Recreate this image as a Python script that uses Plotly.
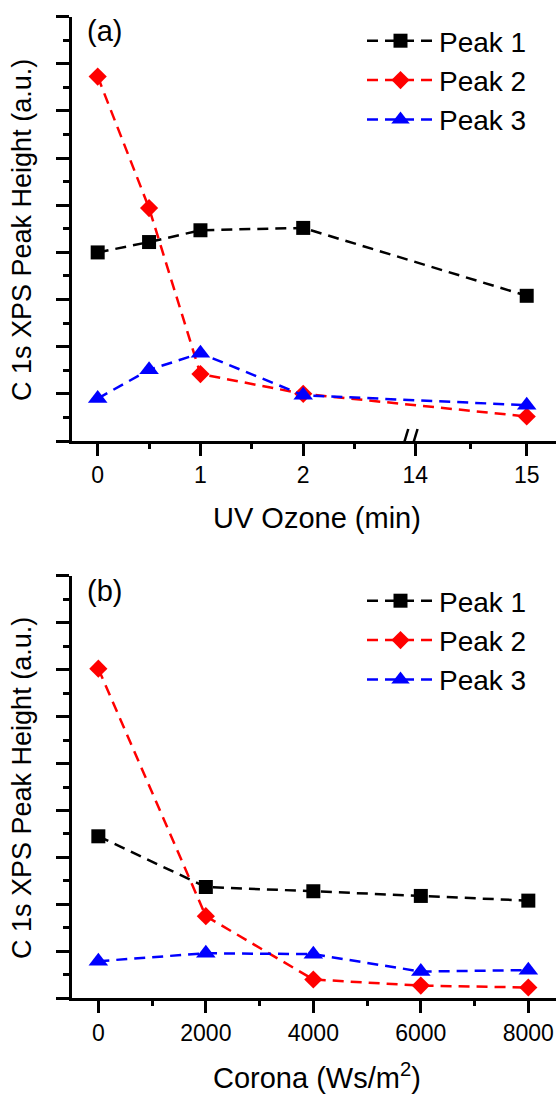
import plotly.graph_objects as go

# ---------------- data ----------------
uv_time = [0, 0.5, 1, 2, 15]          # min
uv_peak1 = [4.00, 4.22, 4.47, 4.52, 3.08]
uv_peak2 = [7.73, 4.94, 1.42, 1.00, 0.52]
uv_peak3 = [0.90, 1.51, 1.86, 0.97, 0.76]

corona = [0, 2000, 4000, 6000, 8000]  # Ws/m2
co_peak1 = [3.45, 2.37, 2.28, 2.18, 2.08]
co_peak2 = [7.02, 1.75, 0.40, 0.27, 0.23]
co_peak3 = [0.79, 0.96, 0.94, 0.57, 0.60]

uv_major_ticks = [0, 1, 2, 14, 15]
uv_minor_ticks = [0.5, 1.5, 2.5, 14.5]
co_major_ticks = [0, 2000, 4000, 6000, 8000]
co_minor_ticks = [1000, 3000, 5000, 7000]

names = ["Peak 1", "Peak 2", "Peak 3"]
colors = ["#000000", "#FF0000", "#0000FF"]
symbols = ["square", "diamond", "triangle-up"]
sizes = [14, 14, 17]

# broken x axis: segment 1 (0..2.5) and segment 2 (14..15) with its own scale
SEG2_START = 3.09
SEG2_SCALE = 1.085
BREAK_POS = 3.03


def brk(t):
    return t if t <= 2.5 else SEG2_START + (t - 14) * SEG2_SCALE


W, H = 557, 1095
L_M, R_M = 72, 1

def py(px):  # pixel row -> paper fraction
    return 1 - px / H

def pxx(px):  # pixel col -> paper fraction
    return (px - L_M) / (W - L_M - R_M)

fig = go.Figure()

for i in range(3):
    fig.add_trace(go.Scatter(
        x=[brk(t) for t in uv_time], y=[uv_peak1, uv_peak2, uv_peak3][i],
        mode="lines+markers", name=names[i],
        line=dict(color=colors[i], width=2.5, dash="11px,7px"),
        marker=dict(symbol=symbols[i], size=sizes[i], color=colors[i]),
        xaxis="x", yaxis="y", legend="legend", cliponaxis=False))
for i in range(3):
    fig.add_trace(go.Scatter(
        x=corona, y=[co_peak1, co_peak2, co_peak3][i],
        mode="lines+markers", name=names[i],
        line=dict(color=colors[i], width=2.5, dash="11px,7px"),
        marker=dict(symbol=symbols[i], size=sizes[i], color=colors[i]),
        xaxis="x2", yaxis="y2", legend="legend2", cliponaxis=False))

font_family = "Liberation Sans"
TXT = 29
YTXT = 27
LEG = 28

yax = dict(range=[0, 9], showline=True, linewidth=2.5, linecolor="black",
           ticks="outside", ticklen=13, tickwidth=2.5, tickcolor="black",
           dtick=1, tick0=0, showticklabels=False, showgrid=False, zeroline=False,
           minor=dict(ticks="outside", ticklen=6, tickwidth=2.5, tickcolor="black",
                      dtick=0.5, tick0=0, showgrid=False))
xcommon = dict(showline=True, linewidth=2.5, linecolor="black",
               ticks="outside", ticklen=12, tickwidth=2.5, tickcolor="black",
               showgrid=False, zeroline=False,
               tickfont=dict(size=23, color="black", family=font_family))

fig.update_layout(
    width=W, height=H,
    margin=dict(l=L_M, r=R_M, t=0, b=0),
    paper_bgcolor="white", plot_bgcolor="white",
    font=dict(family=font_family, color="black"),
    xaxis=dict(xcommon, domain=[0, 1], anchor="y",
               range=[-0.25, 4.46], tickmode="array",
               tickvals=[brk(t) for t in uv_major_ticks],
               ticktext=[str(t) for t in uv_major_ticks],
               minor=dict(ticks="outside", ticklen=5, tickwidth=2.5, tickcolor="black",
                          tickvals=[brk(t) for t in uv_minor_ticks], showgrid=False)),
    yaxis=dict(yax, domain=[py(441), py(16.7)], anchor="x"),
    xaxis2=dict(xcommon, domain=[0, 1], anchor="y2",
                range=[-490, 8515], tickmode="array",
                tickvals=co_major_ticks, ticktext=[str(t) for t in co_major_ticks],
                minor=dict(ticks="outside", ticklen=5, tickwidth=2.5, tickcolor="black",
                           tickvals=co_minor_ticks, showgrid=False)),
    yaxis2=dict(yax, domain=[py(998.3), py(575.7)], anchor="x2"),
    legend=dict(x=pxx(362), y=py(16), xanchor="left", yanchor="top",
                bgcolor="rgba(0,0,0,0)", font=dict(size=LEG, color="black"),
                itemwidth=67, tracegroupgap=0),
    legend2=dict(x=pxx(362), y=py(576), xanchor="left", yanchor="top",
                 bgcolor="rgba(0,0,0,0)", font=dict(size=LEG, color="black"),
                 itemwidth=67, tracegroupgap=0),
    showlegend=True,
)

# axis titles and panel labels
ann = [
    dict(text="UV Ozone (min)", x=pxx(317), y=py(518), xref="paper", yref="paper", size=TXT),
    dict(text="Corona (Ws/m<sup>2</sup>)", x=pxx(317), y=py(1076), xref="paper",
         yref="paper", size=TXT),
    dict(text="C 1s XPS Peak Height (a.u.)", x=pxx(22), y=py(230), xref="paper",
         yref="paper", textangle=-90, size=YTXT),
    dict(text="C 1s XPS Peak Height (a.u.)", x=pxx(22), y=py(788), xref="paper",
         yref="paper", textangle=-90, size=YTXT),
    dict(text="(a)", x=pxx(104), y=py(31), xref="paper", yref="paper", size=TXT),
    dict(text="(b)", x=pxx(104), y=py(591), xref="paper", yref="paper", size=TXT),
]
for a in ann:
    sz = a.pop("size")
    fig.add_annotation(showarrow=False, xanchor="center", yanchor="middle",
                       font=dict(size=sz, color="black", family=font_family), **a)

# axis break symbol on the top x axis
fig.add_shape(type="path", xref="x", yref="y", xsizemode="pixel", ysizemode="pixel",
              xanchor=BREAK_POS, yanchor=0,
              path="M-5,-4 L-3,4 L6,4 L4,-4 Z",
              fillcolor="white", line=dict(width=0), layer="above")
for dx in (-8.3, 1.0):
    fig.add_shape(type="line", xref="x", yref="y", xsizemode="pixel", ysizemode="pixel",
                  xanchor=BREAK_POS, yanchor=0,
                  x0=dx, y0=-13, x1=dx + 7.5, y1=12,
                  line=dict(color="black", width=2.5), layer="above")

fig.write_html("out.html")
